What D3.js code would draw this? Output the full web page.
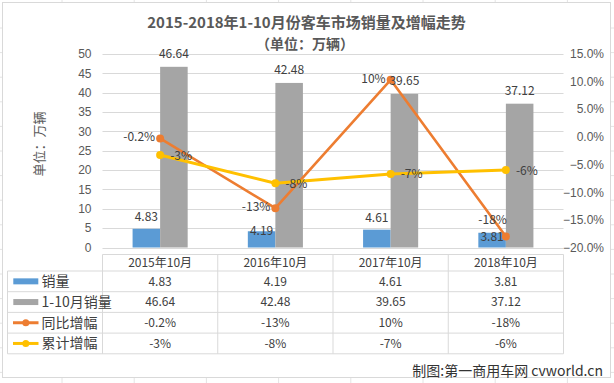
<!DOCTYPE html>
<html><head><meta charset="utf-8">
<script src="https://cdn.jsdelivr.net/npm/d3@7"></script>
<style>
html,body{margin:0;padding:0;background:#fff;}
svg{display:block;font-family:"Noto Sans CJK SC","Noto Sans",sans-serif;}
</style></head>
<body>
<svg id="chart" width="614" height="383"></svg>
<script>
// ---------- data ----------
const categories = ["2015年10月", "2016年10月", "2017年10月", "2018年10月"];
const monthlySales = [4.83, 4.19, 4.61, 3.81];          // 销量 (万辆)
const ytdSales = [46.64, 42.48, 39.65, 37.12];           // 1-10月销量 (万辆)
const yoyGrowth = [-0.003, -0.129, 0.103, -0.180];       // 同比增幅 (plotted)
const ytdGrowth = [-0.033, -0.084, -0.067, -0.060];      // 累计增幅 (plotted)
const yoyLabels = ["-0.2%", "-13%", "10%", "-18%"];
const ytdLabels = ["-3%", "-8%", "-7%", "-6%"];
const leftTicks = [0, 5, 10, 15, 20, 25, 30, 35, 40, 45, 50];
const rightTicks = [-0.20, -0.15, -0.10, -0.05, 0, 0.05, 0.10, 0.15];
const seriesNames = ["销量", "1-10月销量", "同比增幅", "累计增幅"];

// ---------- layout / style ----------
const W = 614, H = 383;
const plot = {x0: 102.5, x1: 563.5, y0: 53.8, y1: 247.5};
const colors = {blue: "#5B9BD5", gray: "#A5A5A5", orange: "#ED7D31", yellow: "#FFC000"};
const textCol = "#404040", axisCol = "#595959", gridCol = "#D9D9D9";

const svg = d3.select("#chart");

// spreadsheet background
const bg = svg.append("g");
d3.range(62, W, 72.2).forEach(x => bg.append("line").attr("x1", x).attr("x2", x).attr("y1", 0).attr("y2", H).attr("stroke", "#E4E4E4"));
d3.range(28, H, 24.6).forEach(y => bg.append("line").attr("x1", 0).attr("x2", W).attr("y1", y).attr("y2", y).attr("stroke", "#E4E4E4"));
svg.append("rect").attr("x", 2.5).attr("y", 2.5).attr("width", 608).attr("height", 375)
  .attr("fill", "#fff").attr("stroke", "#D9D9D9");

// scales
const x = d3.scaleBand().domain(categories).range([plot.x0, plot.x1]).padding(0);
const groupW = x.bandwidth() * 0.478;
const xSub = d3.scaleBand().domain(["m", "y"]).range([0, groupW]).padding(0);
const yL = d3.scaleLinear().domain([0, 50]).range([plot.y1, plot.y0]);
const yR = d3.scaleLinear().domain([-0.20, 0.15]).range([plot.y1, plot.y0]);
const cx = c => x(c) + x.bandwidth() / 2;

// titles
svg.append("text").attr("x", 306.5).attr("y", 27.5).attr("text-anchor", "middle")
  .attr("font-size", 15).attr("font-weight", "bold").attr("fill", "#595959")
  .text("2015-2018年1-10月份客车市场销量及增幅走势");
svg.append("text").attr("x", 305).attr("y", 48.5).attr("text-anchor", "middle")
  .attr("font-size", 14).attr("font-weight", "bold").attr("fill", "#595959")
  .text("（单位：万辆）");
svg.append("text").attr("transform", "translate(44,144) rotate(-90)").attr("text-anchor", "middle")
  .attr("font-size", 13).attr("fill", axisCol).text("单位：万辆");

// gridlines
svg.append("g").selectAll("line").data(leftTicks).join("line")
  .attr("x1", plot.x0).attr("x2", plot.x1)
  .attr("y1", d => Math.round(yL(d)) + 0.5).attr("y2", d => Math.round(yL(d)) + 0.5)
  .attr("stroke", gridCol);

// left axis
const axL = svg.append("g").attr("transform", `translate(${plot.x0 - 11},0)`)
  .call(d3.axisLeft(yL).tickValues(leftTicks).tickSize(0).tickPadding(0));
axL.select(".domain").remove();
axL.selectAll("text").attr("font-size", 12).attr("fill", axisCol).attr("font-family", "inherit");

// right axis
const axR = svg.append("g").attr("transform", `translate(604,0)`)
  .call(d3.axisLeft(yR).tickValues(rightTicks).tickFormat(d3.format(".1%")).tickSize(0).tickPadding(0));
axR.select(".domain").remove();
axR.selectAll("text").attr("font-size", 12).attr("fill", axisCol).attr("font-family", "inherit");

// bars
const bars = svg.append("g");
bars.selectAll("rect.m").data(categories).join("rect").attr("class", "m")
  .attr("x", (c) => cx(c) - groupW / 2 + xSub("m")).attr("width", xSub.bandwidth())
  .attr("y", (c, i) => yL(monthlySales[i])).attr("height", (c, i) => yL(0) - yL(monthlySales[i]))
  .attr("fill", colors.blue);
bars.selectAll("rect.y").data(categories).join("rect").attr("class", "y")
  .attr("x", (c) => cx(c) - groupW / 2 + xSub("y")).attr("width", xSub.bandwidth())
  .attr("y", (c, i) => yL(ytdSales[i])).attr("height", (c, i) => yL(0) - yL(ytdSales[i]))
  .attr("fill", colors.gray);

// lines
function drawLine(vals, color, w) {
  const pts = categories.map((c, i) => [cx(c), yR(vals[i])]);
  svg.append("path").attr("d", d3.line()(pts)).attr("fill", "none")
    .attr("stroke", color).attr("stroke-width", w).attr("stroke-linejoin", "round").attr("stroke-linecap", "round");
  svg.append("g").selectAll("circle").data(pts).join("circle")
    .attr("cx", d => d[0]).attr("cy", d => d[1]).attr("r", 4).attr("fill", color);
}
drawLine(yoyGrowth, colors.orange, 2.6);
drawLine(ytdGrowth, colors.yellow, 3);

// data labels
const lab = svg.append("g").attr("font-size", 12).attr("fill", textCol);
// gray bar labels
lab.selectAll("text.gy").data(categories).join("text").attr("class", "gy")
  .attr("x", c => cx(c) - groupW / 2 + xSub("y") + xSub.bandwidth() / 2)
  .attr("y", (c, i) => yL(ytdSales[i]) - 9).attr("text-anchor", "middle").text((c, i) => ytdSales[i].toFixed(2));
// blue bar labels (two were nudged down in the original)
const blueNudge = [0, 11.5, 0, 16];
lab.selectAll("text.bm").data(categories).join("text").attr("class", "bm")
  .attr("x", c => cx(c) - groupW / 2 + xSub("m") + xSub.bandwidth() / 2)
  .attr("y", (c, i) => yL(monthlySales[i]) - 8 + blueNudge[i]).attr("text-anchor", "middle")
  .text((c, i) => monthlySales[i].toFixed(2));
// orange labels: left of point, last one above
lab.selectAll("text.yo").data(categories).join("text").attr("class", "yo")
  .attr("x", (c, i) => i === 3 ? cx(c) + 1 : cx(c) - 5)
  .attr("y", (c, i) => yR(yoyGrowth[i]) + 4 - (i === 3 ? 16 : 1))
  .attr("text-anchor", "end").text((c, i) => yoyLabels[i]);
// yellow labels: right of point
lab.selectAll("text.yt").data(categories).join("text").attr("class", "yt")
  .attr("x", c => cx(c) + 10).attr("y", (c, i) => yR(ytdGrowth[i]) + 4.5)
  .attr("text-anchor", "start").text((c, i) => ytdLabels[i]);

// data table
const rowY = [254.5, 271, 291.7, 312.4, 333.1, 353.8];
const tbl = svg.append("g");
const tLine = (x1, y1, x2, y2) => tbl.append("line").attr("x1", x1).attr("y1", y1).attr("x2", x2).attr("y2", y2).attr("stroke", gridCol);
tLine(plot.x0, rowY[0], plot.x1, rowY[0]);
for (let r = 1; r < rowY.length; r++) tLine(7.5, rowY[r], plot.x1, rowY[r]);
tLine(7.5, rowY[1], 7.5, rowY[5]);
categories.forEach(c => tLine(x(c), rowY[0], x(c), rowY[5]));
tLine(plot.x1, rowY[0], plot.x1, rowY[5]);

const tt = tbl.append("g").attr("font-size", 12).attr("fill", textCol).attr("text-anchor", "middle");
tt.selectAll("text.h").data(categories).join("text").attr("class", "h")
  .attr("x", c => cx(c)).attr("y", (rowY[0] + rowY[1]) / 2 + 4.3).text(c => c);
const rowsVals = [
  monthlySales.map(v => v.toFixed(2)),
  ytdSales.map(v => v.toFixed(2)),
  yoyLabels,
  ytdLabels
];
rowsVals.forEach((vals, r) => {
  const yc = (rowY[r + 1] + rowY[r + 2]) / 2;
  tt.selectAll(null).data(vals).join("text")
    .attr("x", (v, i) => cx(categories[i])).attr("y", yc + 4.3).text(v => v);
  // legend key
  const keyCol = [colors.blue, colors.gray, colors.orange, colors.yellow][r];
  if (r < 2) {
    tbl.append("rect").attr("x", 13.3).attr("y", yc - 3).attr("width", 25).attr("height", 6).attr("fill", keyCol);
  } else {
    tbl.append("line").attr("x1", 13).attr("x2", 38.5).attr("y1", yc).attr("y2", yc).attr("stroke", keyCol).attr("stroke-width", 3);
    tbl.append("circle").attr("cx", 25.8).attr("cy", yc).attr("r", 3.5).attr("fill", keyCol);
  }
  tbl.append("text").attr("x", 41.5).attr("y", yc + 5).attr("font-size", 14).attr("fill", textCol).text(seriesNames[r]);
});

// credit
svg.append("text").attr("x", 603).attr("y", 376).attr("text-anchor", "end")
  .attr("font-size", 14).attr("fill", "#333").text("制图:第一商用车网 cvworld.cn");
</script>
</body></html>
